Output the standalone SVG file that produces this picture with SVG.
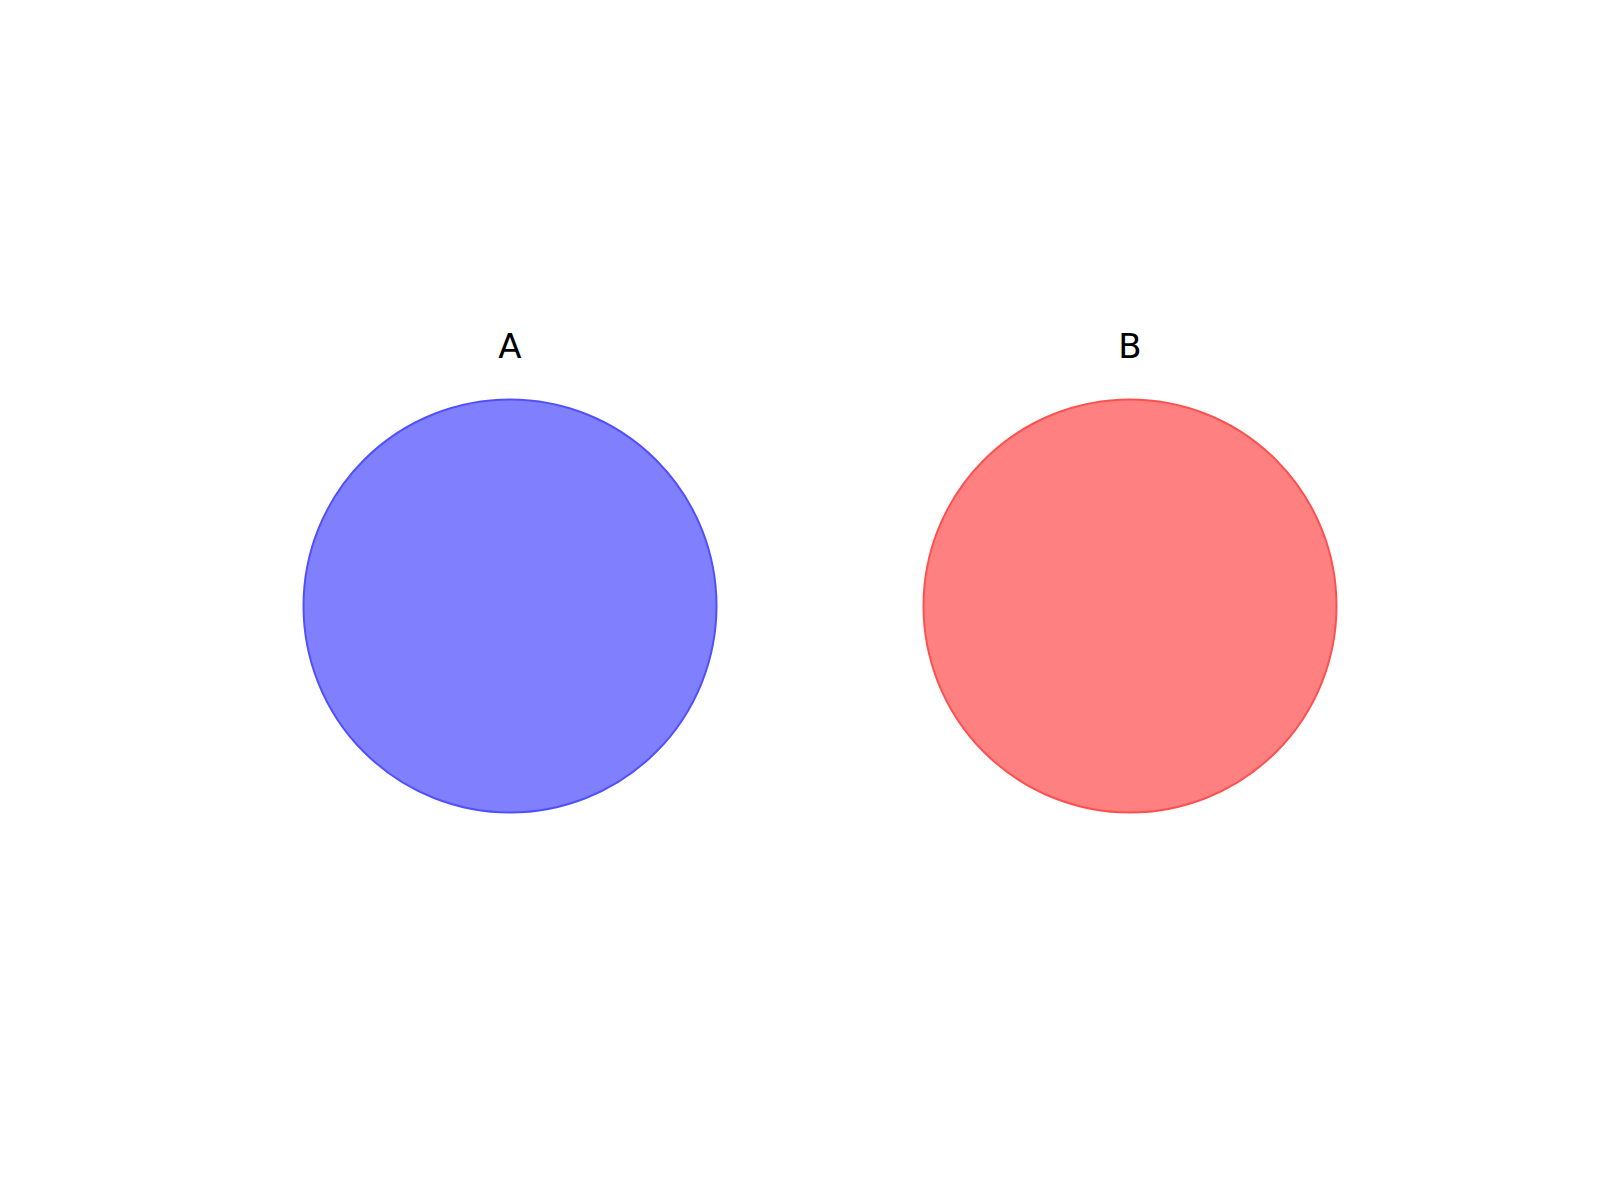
<svg xmlns="http://www.w3.org/2000/svg" width="1600" height="1200" viewBox="0 0 1600 1200">
<style>
.lbl{font-family:"DejaVu Sans",sans-serif;font-size:34px;fill:#000;text-anchor:middle}
.c{stroke-width:2}
</style>
<rect width="1600" height="1200" fill="#fff"/>
<g id="nodeA">
<circle class="c" cx="510" cy="606" r="206.5" fill="#8080ff" stroke="#5050ff"/>
<text class="lbl" x="510" y="358">A</text>
</g>
<g id="nodeB">
<circle class="c" cx="1130" cy="606" r="206.5" fill="#ff8080" stroke="#ff5050"/>
<text class="lbl" x="1130" y="358">B</text>
</g>
<g id="connectors"></g>
</svg>
